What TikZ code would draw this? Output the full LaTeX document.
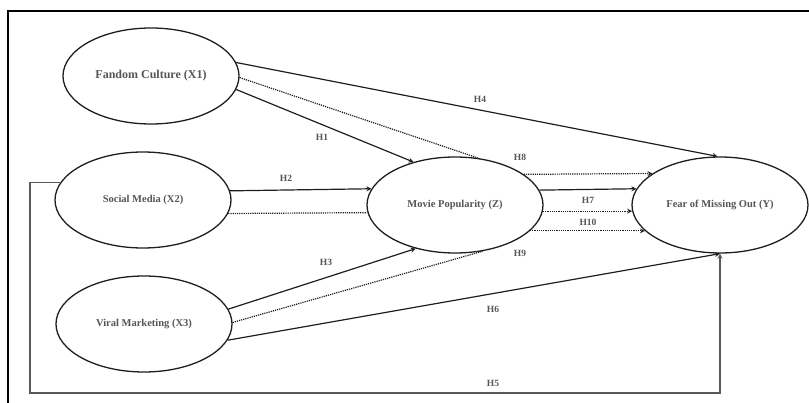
\documentclass[tikz,border=0pt]{standalone}
\usepackage{fontspec}
\setmainfont{Liberation Serif}
\usetikzlibrary{shapes.geometric}
\definecolor{txtgray}{HTML}{555555}
\definecolor{linegray}{HTML}{1E1E1E}

\begin{document}
\begin{tikzpicture}[x=1pt,y=-1pt,>=stealth,
	construct/.style={shape=ellipse,draw=linegray,line width=1.3pt,
		minimum width=176pt,minimum height=96pt,inner sep=0pt,
		text=txtgray,font=\fontsize{10.5}{12}\selectfont\bfseries},
	hyp/.style={text=txtgray,inner sep=1pt,font=\fontsize{9.5}{11}\selectfont\bfseries},
	path/.style={->,draw=linegray,line width=1.2pt},
	dotpath/.style={draw=linegray,line width=1.2pt,densely dotted}]
	\useasboundingbox (0,0) rectangle (809,403);
	% frame
	\draw[line width=1.5pt] (8,403) -- (8,11) -- (809,11);

	% create the nodes.
	\node (fandom) [construct,font=\fontsize{12}{14}\selectfont\bfseries] at (151,76) {Fandom Culture (X1)};
	\node (social) [construct] at (143,200) {Social Media (X2)};
	\node (viral) [construct] at (144,324) {Viral Marketing (X3)};
	\node (movie) [construct] at (455,205) {Movie Popularity (Z)};
	\node (fomo) [construct] at (720,205) {Fear of Missing Out (Y)};
	\coordinate (loop) at (30,393);

	% hypothesis labels
	\node (lHone) [hyp] at (322,137) {H1};
	\node (lHtwo) [hyp] at (286,178) {H2};
	\node (lHthree) [hyp] at (326,262) {H3};
	\node (lHfour) [hyp] at (480,99) {H4};
	\node (lHfive) [hyp] at (493,383) {H5};
	\node (lHsix) [hyp] at (493,309) {H6};
	\node (lHseven) [hyp] at (588,200) {H7};
	\node (lHeight) [hyp] at (520,157) {H8};
	\node (lHnine) [hyp] at (520,253) {H9};
	\node (lHten) [hyp] at (588,222) {H10};

	% connect the nodes
	\draw[path] (fandom.9) -- (fomo.93);
	\draw[dotpath] (fandom.-1) -- (movie.64);
	\draw[path] (fandom.-9) -- (movie.134);
	\draw[path] (social.6.6) -- (movie.169.8);
	\draw[dotpath] (social.-9.4) -- (movie.185.9);
	\draw[path] (viral.10.5) -- (movie.-132.3);
	\draw[dotpath] (viral.1) -- (movie.-59.6);
	\draw[path] (viral.-11.3) -- (fomo.south);
	\draw[dotpath,->] (movie.24.8) -- (fomo.155.2);
	\draw[path] (movie.10.9) -- (fomo.169.1);
	\draw[dotpath,->] (movie.-4.6) -- (fomo.184.6);
	\draw[dotpath,->] (movie.-19.4) -- (fomo.199.4);
	\draw[path,draw=black!65] (social.168.3) -| (loop) -| (fomo.south);
\end{tikzpicture}
\end{document}
